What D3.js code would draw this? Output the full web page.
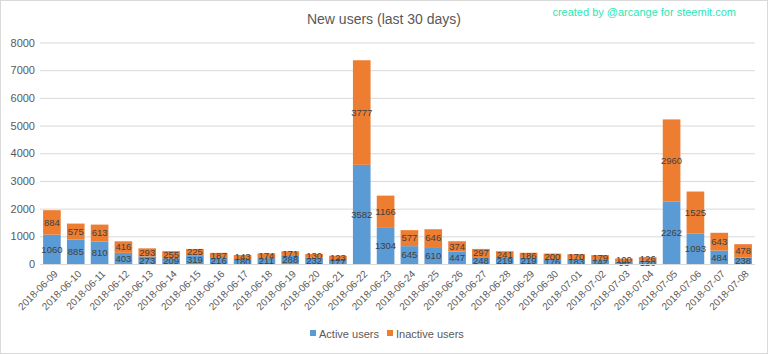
<html>
<head>
  <meta charset="utf-8" />
  <script src="https://cdnjs.cloudflare.com/ajax/libs/d3/7.8.5/d3.min.js"></script>
  <style>
    body { margin: 0; background: #fff; }
    svg { font-family: "Liberation Sans", Arial, sans-serif; }
    .domain { display: none; }
    .tick line { stroke: #d9d9d9; }
    .tick text { fill: #595959; }
  </style>
</head>
<body>
  <svg width="768" height="354"></svg>
  <script>
    // values
    var dates = ["2018-06-09","2018-06-10","2018-06-11","2018-06-12","2018-06-13","2018-06-14",
      "2018-06-15","2018-06-16","2018-06-17","2018-06-18","2018-06-19","2018-06-20","2018-06-21",
      "2018-06-22","2018-06-23","2018-06-24","2018-06-25","2018-06-26","2018-06-27","2018-06-28",
      "2018-06-29","2018-06-30","2018-07-01","2018-07-02","2018-07-03","2018-07-04","2018-07-05",
      "2018-07-06","2018-07-07","2018-07-08"]
    var activeUsers = [1060, 885, 810, 403, 273, 209, 319, 216, 180, 211, 288, 232, 177, 3582, 1304,
      645, 610, 447, 248, 219, 219, 176, 183, 142, 98, 120, 2262, 1093, 484, 238]
    var inactiveUsers = [884, 575, 613, 416, 293, 255, 225, 187, 143, 174, 171, 130, 123, 3777, 1166,
      577, 646, 374, 297, 241, 186, 200, 170, 179, 100, 126, 2960, 1525, 643, 478]
    var yTicks = [0, 1000, 2000, 3000, 4000, 5000, 6000, 7000, 8000]
    var seriesNames = ["Active users", "Inactive users"]
    var colors = ["#5b9bd5", "#ed7d31"]

    var svg = d3.select("svg")
    // outer frame
    svg.append("rect").attr("x", 0.5).attr("y", 0.5).attr("width", 767).attr("height", 353)
      .attr("fill", "#fff").attr("stroke", "#d9d9d9")

    var plotLeft = 40, plotRight = 755, plotTop = 42.5, plotBottom = 264

    var x = d3.scaleBand().domain(dates).range([plotLeft, plotRight]).paddingInner(0.26).paddingOuter(0.13)
    var y = d3.scaleLinear().domain([0, 8000]).range([plotBottom, plotTop])

    // y axis with gridlines
    svg.append("g")
      .attr("transform", "translate(" + plotLeft + ",0)")
      .call(d3.axisLeft(y).tickValues(yTicks).tickSize(plotLeft - plotRight).tickPadding(6).tickFormat(d3.format("d")))
      .call(g => g.selectAll("text").attr("font-size", 11).attr("x", -5))

    // stack the data
    var table = dates.map((d, i) => ({ date: d, active: activeUsers[i], inactive: inactiveUsers[i] }))
    var stack = d3.stack().keys(["active", "inactive"])(table)

    var layers = svg.selectAll("g.layer").data(stack).enter().append("g")
      .attr("class", "layer").attr("fill", (d, i) => colors[i])

    layers.selectAll("rect").data(d => d).enter().append("rect")
      .attr("x", d => x(d.data.date))
      .attr("width", x.bandwidth())
      .attr("y", d => y(d[1]))
      .attr("height", d => y(d[0]) - y(d[1]))

    // value labels in the middle of each segment
    layers.selectAll("text").data(d => d.map(v => ({ v: v, key: d.key }))).enter().append("text")
      .attr("x", d => x(d.v.data.date) + x.bandwidth() / 2)
      .attr("y", d => (y(d.v[0]) + y(d.v[1])) / 2)
      .attr("dy", "0.35em")
      .attr("text-anchor", "middle")
      .attr("font-size", 9.5)
      .attr("fill", "#404040")
      .text(d => d.v.data[d.key])

    // x axis labels, rotated
    svg.append("line").attr("x1", plotLeft).attr("x2", plotRight)
      .attr("y1", plotBottom + 0.5).attr("y2", plotBottom + 0.5)
      .attr("stroke", "#d9d9d9")
    svg.append("g").selectAll("text").data(dates).enter().append("text")
      .attr("transform", d => "translate(" + (x(d) + x.bandwidth() / 2 + 4) + "," + (plotBottom + 8) + ") rotate(-45)")
      .attr("text-anchor", "end")
      .attr("dy", "0.35em")
      .attr("font-size", 10)
      .attr("fill", "#595959")
      .text(d => d)

    // title and credit
    svg.append("text").attr("x", 384).attr("y", 24).attr("text-anchor", "middle")
      .attr("font-size", 14).attr("fill", "#595959").text("New users (last 30 days)")
    svg.append("text").attr("x", 736).attr("y", 16).attr("text-anchor", "end")
      .attr("font-size", 11).attr("fill", "#2ee6b4").text("created by @arcange for steemit.com")

    // legend
    var legendX = [310, 387]
    var legend = svg.selectAll("g.legend").data(seriesNames).enter().append("g")
      .attr("class", "legend")
      .attr("transform", (d, i) => "translate(" + legendX[i] + ",334)")
    legend.append("rect").attr("x", 0).attr("y", -4).attr("width", 6).attr("height", 6)
      .attr("fill", (d, i) => colors[i])
    legend.append("text").attr("x", 9).attr("y", 0).attr("dy", "0.35em")
      .attr("font-size", 11).attr("fill", "#595959").text(d => d)
  </script>
</body>
</html>
